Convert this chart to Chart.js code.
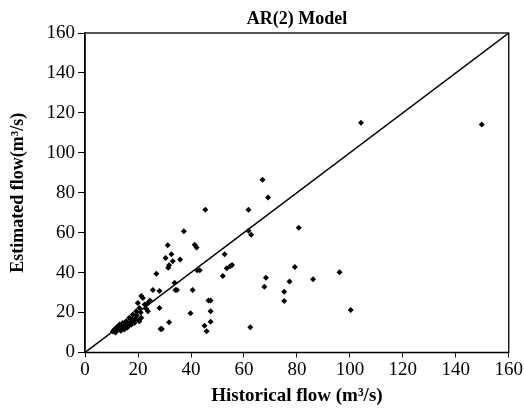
<!DOCTYPE html>
<html>
<head>
<meta charset="utf-8">
<script src="https://cdn.jsdelivr.net/npm/chart.js@4/dist/chart.umd.min.js"></script>
<style>
  html, body { margin: 0; padding: 0; background: #fff; }
  #wrap { width: 524px; height: 408px; }
</style>
</head>
<body>
<div id="wrap"><canvas id="chartCanvas"></canvas></div>
<script>
// historical vs estimated flow
const historical = [
  10.5, 11, 11.5, 11.8, 12, 12.5, 12.8, 13, 13.3, 13.5, 14, 14.2, 14.5, 14.8, 15, 15.5, 15.8, 16, 16.5, 16.7,
  17, 17.4, 17.8, 18, 18.3, 18.6, 19, 19.3, 19.5, 19.9, 20.2, 20.5, 20.5, 21, 21.2, 21.2, 21.8, 22.5, 23, 23.7,
  23.7, 24.5, 25.6, 26.9, 28.1, 28.1, 28.5, 29, 30.4, 31.2, 31.4, 31.7, 31.7, 32.6, 33.1, 33.8, 34.1, 34.7, 35.9, 37.3,
  39.8, 40.6, 41.4, 42.1, 42.3, 43.3, 45.4, 45.1, 45.9, 46.6, 47.4, 47.4, 47.4, 52, 52.7, 53.5, 54.8, 55.5, 61.7, 61.7,
  62.7, 62.4, 67, 69.1, 68.3, 67.7, 75.2, 75.2, 77.2, 79.2, 80.7, 86.1, 96.1, 100.3, 104.2, 149.8
];
const estimated = [
  10.5, 11.5, 10, 12.5, 11, 13, 11.8, 14, 12, 10.8, 13, 14.7, 12.2, 11.5, 13.5, 15.6, 14, 12.5, 13.8, 17.3,
  15, 13.9, 16.5, 19, 15.5, 14.7, 17, 20.6, 18.5, 24.8, 16, 22.3, 15.6, 20, 17.3, 28.2, 27.3, 24, 22, 24.8,
  20.6, 26, 31.2, 39.4, 30.7, 22.3, 11.7, 11.7, 47.3, 53.7, 42.4, 43.6, 15.1, 49.2, 45.6, 34.9, 31.2, 31.2, 46.5, 60.7,
  19.6, 31.2, 53.9, 52.5, 41.1, 41.1, 71.5, 13.4, 10.6, 26, 26, 20.6, 15.3, 38.3, 49.2, 42.1, 43.1, 43.8, 71.5, 60.9,
  58.9, 12.6, 86.5, 77.6, 37.4, 32.9, 30.4, 25.7, 35.5, 42.8, 62.4, 36.6, 40.1, 21.3, 115.1, 114.2
];
const axisMin = 0;
const axisMax = 160;
const tickStep = 20;
const chartTitle = "AR(2) Model";

const points = historical.map((x, i) => ({ x: x, y: estimated[i] }));
const lineOfEquality = [{ x: axisMin, y: axisMin }, { x: axisMax, y: axisMax }];

const serif = "'Liberation Serif', 'Times New Roman', serif";

// box round the plot area, and the title centred over it
const frame = {
  id: "frame",
  afterDraw(chart) {
    const a = chart.chartArea;
    const c = chart.ctx;
    c.save();
    c.strokeStyle = "#000";
    c.lineWidth = 1.3;
    c.strokeRect(a.left, a.top, a.right - a.left, a.bottom - a.top);
    c.fillStyle = "#000";
    c.font = "bold 18px " + serif;
    c.textAlign = "center";
    c.textBaseline = "middle";
    c.fillText(chartTitle, (a.left + a.right) / 2, a.top - 14);
    c.restore();
  }
};

new Chart(document.getElementById("chartCanvas").getContext("2d"), {
  type: "scatter",
  data: {
    datasets: [
      {
        label: "AR(2)",
        data: points,
        backgroundColor: "#000",
        borderColor: "#000",
        pointStyle: "rectRot",
        pointRadius: 3,
        borderWidth: 0
      },
      {
        label: "1:1",
        data: lineOfEquality,
        showLine: true,
        borderColor: "#000",
        borderWidth: 1.4,
        pointRadius: 0
      }
    ]
  },
  options: {
    responsive: true,
    maintainAspectRatio: false,
    animation: false,
    layout: { padding: { left: 8, right: 2, top: 33, bottom: 1 } },
    plugins: {
      legend: { display: false },
      tooltip: { enabled: false },
      title: { display: false }
    },
    scales: {
      x: {
        type: "linear",
        min: axisMin,
        max: axisMax,
        ticks: { stepSize: tickStep, color: "#000", font: { family: serif, size: 19 }, padding: 1 },
        grid: { drawOnChartArea: false, drawTicks: true, tickLength: 5, color: "#000" },
        border: { color: "#000", width: 1.3 },
        title: {
          display: true,
          text: "Historical flow (m³/s)",
          color: "#000",
          font: { family: serif, size: 19, weight: "bold" },
          padding: { top: 2, bottom: 0 }
        }
      },
      y: {
        type: "linear",
        min: axisMin,
        max: axisMax,
        ticks: { stepSize: tickStep, color: "#000", font: { family: serif, size: 19 }, padding: 3 },
        grid: { drawOnChartArea: false, drawTicks: true, tickLength: 7, color: "#000" },
        border: { color: "#000", width: 1.3 },
        title: {
          display: true,
          text: "Estimated flow(m³/s)",
          color: "#000",
          font: { family: serif, size: 18, weight: "bold" },
          padding: { top: 0, bottom: 14 }
        }
      }
    }
  },
  plugins: [frame]
});
</script>
</body>
</html>
